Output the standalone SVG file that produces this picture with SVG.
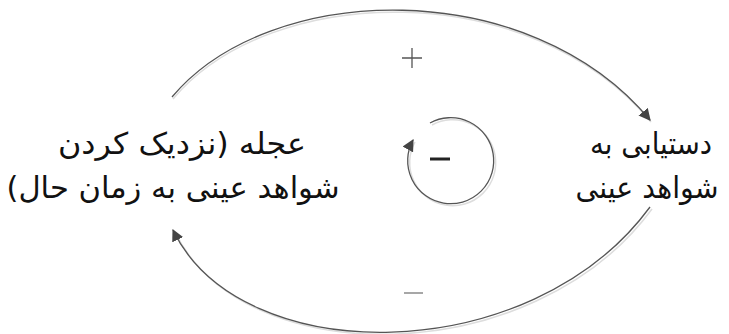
<svg xmlns="http://www.w3.org/2000/svg" width="729" height="334" viewBox="0 0 729 334">
<style>
.lbl{font-family:"DejaVu Sans",sans-serif;font-size:30px;fill:#111;text-anchor:middle;direction:rtl}
.arc{fill:none;stroke:#555;stroke-width:1.3}
.sh{fill:none;stroke:#ddd;stroke-width:1.5}
.sign{stroke:#555;stroke-width:1.3;fill:none}
</style>
<defs>
<marker id="ah" viewBox="0 0 10 10" refX="9" refY="5" markerWidth="12" markerHeight="12" markerUnits="userSpaceOnUse" orient="auto">
<path d="M0,0 L10,5 L0,10 z" fill="#444"/>
</marker>
</defs>
<g id="connectors">
<path class="sh" d="M173,99 C271,-18 531,-23 651,122"/>
<path class="arc" d="M172,97 C270,-20 530,-25 650,120" marker-end="url(#ah)"/>
<path class="sh" d="M652,209 C532,372 242,372 175,232"/>
<path class="arc" d="M650,207 C530,370 240,370 173,230" marker-end="url(#ah)"/>
<path class="sh" d="M432,125 A43,43 0 1 1 415,142"/>
<path class="arc" d="M430,123 A43,43 0 1 1 413,140" marker-end="url(#ah)"/>
</g>
<g id="node-rush">
<text class="lbl" x="182" y="154" textLength="248" lengthAdjust="spacingAndGlyphs">عجله (نزدیک کردن</text>
<text class="lbl" x="173" y="198" textLength="333" lengthAdjust="spacingAndGlyphs">شواهد عینی به زمان حال)</text>
</g>
<g id="node-access">
<text class="lbl" x="651" y="154" textLength="122" lengthAdjust="spacingAndGlyphs">دستیابی به</text>
<text class="lbl" x="647" y="198" textLength="143" lengthAdjust="spacingAndGlyphs">شواهد عینی</text>
</g>
<g id="labels">
<path class="sign" d="M402,58 H422 M412,48 V68"/>
<path d="M404,293 H423" stroke="#777" stroke-width="1.3"/>
<path d="M430,159 H450" stroke="#222" stroke-width="3"/>
</g>
</svg>
